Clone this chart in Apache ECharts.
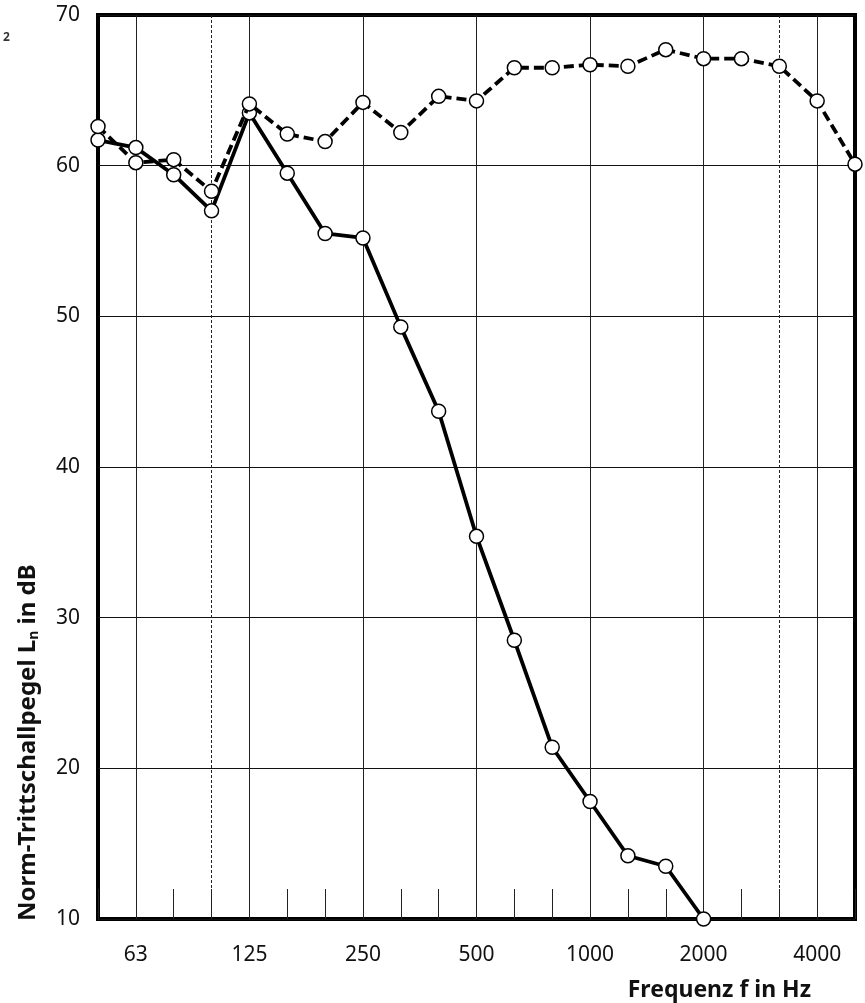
<!DOCTYPE html>
<html lang="de">
<head>
    <meta charset="UTF-8">
    <title>Norm-Trittschallpegel</title>
    <script src="https://cdn.jsdelivr.net/npm/echarts@6/dist/echarts.min.js"></script>
    <style>
        html, body { margin: 0; padding: 0; background: #fff; }
    </style>
</head>
<body>
<div id="chart" style="width:865px;height:1003px"></div>
<script>
    // Terzbänder 50 Hz .. 5000 Hz
    var freqs = ['50', '63', '80', '100', '125', '160', '200', '250', '315', '400', '500',
        '630', '800', '1000', '1250', '1600', '2000', '2500', '3150', '4000', '5000']
    // Oktav-Mitten (beschriftet, durchgezogene Linie)
    var octaveIdx = [1, 4, 7, 10, 13, 16, 19]
    // gepunktete Linien (100 Hz, 3150 Hz)
    var dottedIdx = [3, 18]

    // durchgezogene Kurve (endet bei 2000 Hz)
    var solidLn = [61.7, 61.2, 59.4, 57.0, 63.5, 59.5, 55.5, 55.2, 49.3, 43.7, 35.4,
        28.5, 21.4, 17.8, 14.2, 13.5, 10.0]
    // gestrichelte Kurve
    var dashedLn = [62.6, 60.2, 60.4, 58.3, 64.1, 62.1, 61.6, 64.2, 62.2, 64.6, 64.3,
        66.5, 66.5, 66.7, 66.6, 67.7, 67.1, 67.1, 66.6, 64.3, 60.1]

    var yMin = 10, yMax = 70, yStep = 10

    var font = 'Noto Sans'
    var myChart = echarts.init(document.getElementById('chart'))

    var marker = {
        symbol: 'circle',
        symbolSize: 14,
        itemStyle: { color: '#fff', borderColor: '#000', borderWidth: 1.5 }
    }

    myChart.setOption({
        animation: false,
        backgroundColor: '#fff',
        grid: {
            left: 98, right: 10, top: 15, bottom: 84,
            show: true, borderColor: '#000', borderWidth: 4,
            containLabel: false, outerBoundsMode: 'none'
        },
        xAxis: [{
            type: 'category',
            data: freqs,
            boundaryGap: false,
            axisLine: { show: false },
            axisTick: {
                show: true, inside: true, length: 30,
                interval: 0,
                lineStyle: { color: '#222', width: 1 }
            },
            axisLabel: {
                interval: function (i) { return octaveIdx.indexOf(i) >= 0 },
                margin: 26,
                fontFamily: font, fontSize: 21, color: '#111'
            },
            splitLine: {
                show: true,
                interval: function (i) { return octaveIdx.indexOf(i) >= 0 },
                lineStyle: { color: '#222', width: 1 }
            }
        }, {
            type: 'category',
            data: freqs,
            boundaryGap: false,
            position: 'bottom',
            axisLine: { show: false },
            axisTick: { show: false },
            axisLabel: { show: false },
            splitLine: {
                show: true,
                interval: function (i) { return dottedIdx.indexOf(i) >= 0 },
                lineStyle: { color: '#222', width: 1, type: [3, 2] }
            }
        }],
        yAxis: {
            type: 'value',
            min: yMin, max: yMax, interval: yStep,
            axisLine: { show: false },
            axisTick: { show: false },
            axisLabel: {
                margin: 18,
                padding: [9, 0, 0, 0],
                fontFamily: font, fontSize: 21, color: '#111'
            },
            splitLine: { show: true, lineStyle: { color: '#111', width: 1 } }
        },
        series: [{
            type: 'line',
            xAxisIndex: 0,
            data: solidLn,
            clip: false,
            lineStyle: { color: '#000', width: 3.8, type: 'solid' },
            symbol: marker.symbol, symbolSize: marker.symbolSize, itemStyle: marker.itemStyle,
            z: 3
        }, {
            type: 'line',
            xAxisIndex: 0,
            data: dashedLn,
            clip: false,
            lineStyle: { color: '#000', width: 3.8, type: [10, 5] },
            symbol: marker.symbol, symbolSize: marker.symbolSize, itemStyle: marker.itemStyle,
            z: 4
        }],
        graphic: [{
            type: 'text',
            left: 3, top: 32,
            style: { text: '2', fontFamily: font, fontSize: 12, fontWeight: 'bold', fill: '#333' }
        }, {
            type: 'text',
            x: 811, y: 990,
            style: {
                text: 'Frequenz f in Hz',
                fontFamily: font, fontSize: 23, fontWeight: 'bold', fill: '#111',
                textAlign: 'right', textVerticalAlign: 'middle'
            }
        }, {
            type: 'text',
            x: 28, y: 921,
            rotation: Math.PI / 2,
            style: {
                text: 'Norm-Trittschallpegel L{sub|n} in dB',
                fontFamily: font, fontSize: 24, fontWeight: 'bold', fill: '#111',
                textAlign: 'left', textVerticalAlign: 'middle',
                rich: {
                    sub: { fontFamily: font, fontSize: 14, fontWeight: 'bold', fill: '#111', padding: [12, 0, 0, 0] }
                }
            }
        }]
    })
</script>
</body>
</html>
